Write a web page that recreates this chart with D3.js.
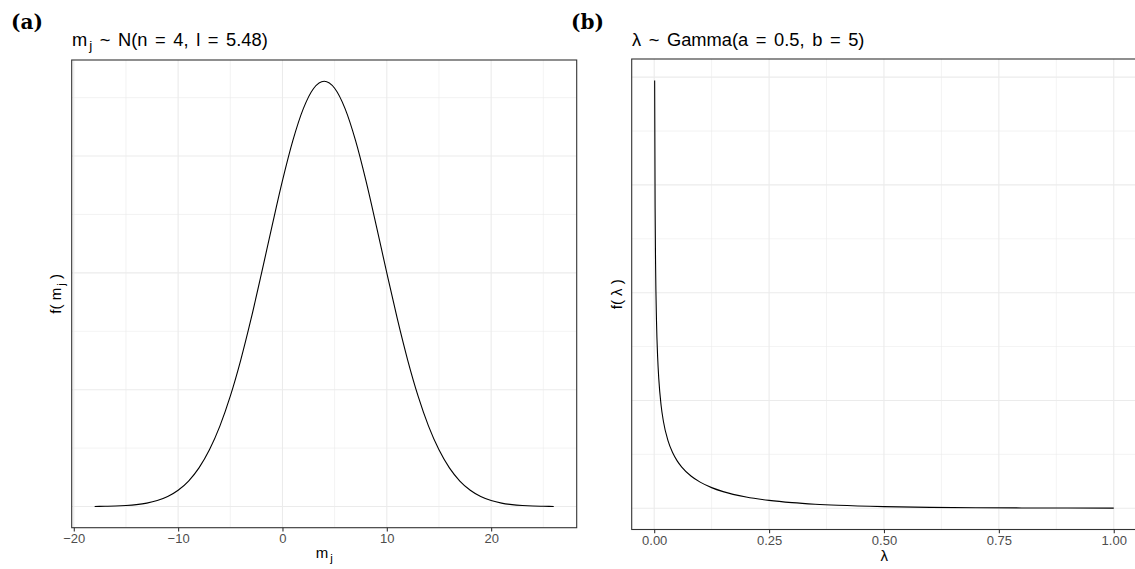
<!DOCTYPE html>
<html><head><meta charset="utf-8">
<script src="https://cdn.jsdelivr.net/npm/d3@7"></script>
<style>
body{margin:0;background:#fff}
svg{display:block}
text{font-family:"Liberation Sans",Arial,Helvetica,sans-serif}
</style>
</head><body>
<svg id="chart" width="1135" height="569"></svg>
<script>
// ---- Data ----
// (a) m_j ~ N(n = 4, l = 5.48) density curve
const normX = [-18,-17,-16,-15,-14,-13,-12,-11,-10,-9,-8,-7,-6,-5,-4,-3,-2,-1,0,1,2,3,4,5,6,7,8,9,10,11,12,13,14,15,16,17,18,19,20,21,22,23,24,25,26];
const normY = [0.00002,0.00005,0.00009,0.00018,0.00033,0.00059,0.00103,0.00172,0.00279,0.00437,0.00662,0.00971,0.01377,0.01890,0.02508,0.03220,0.03998,0.04801,0.05578,0.06267,0.06811,0.07160,0.07280,0.07160,0.06811,0.06267,0.05578,0.04801,0.03998,0.03220,0.02508,0.01890,0.01377,0.00971,0.00662,0.00437,0.00279,0.00172,0.00103,0.00059,0.00033,0.00018,0.00009,0.00005,0.00002];
// (b) lambda ~ Gamma(a = 0.5, b = 5) density curve
const gammaX = [0.001,0.002,0.003,0.005,0.0075,0.01,0.015,0.02,0.03,0.04,0.05,0.06,0.08,0.1,0.125,0.15,0.2,0.25,0.3,0.35,0.4,0.5,0.6,0.7,0.8,0.9,1.0];
const gammaY = [39.70,27.93,22.69,17.40,14.03,12.00,9.556,8.072,6.269,5.164,4.394,3.815,2.990,2.420,1.910,1.539,1.038,0.7229,0.5139,0.3706,0.2700,0.1465,0.0811,0.0455,0.0258,0.0148,0.0085];

// Axis breaks / labels
const normXMajor = [-20,-10,0,10,20];
const normXLabels = ["\u221220","\u221210","0","10","20"];
const normXMinor = [-15,-5,5,15,25];
const normYMajor = [0,0.02,0.04,0.06];
const normYMinor = [0.01,0.03,0.05,0.07];

const gammaXMajor = [0,0.25,0.5,0.75,1];
const gammaXLabels = ["0.00","0.25","0.50","0.75","1.00"];
const gammaXMinor = [0.125,0.375,0.625,0.875];
const gammaYMajor = [0,10,20,30,40];
const gammaYMinor = [5,15,25,35];

// ---- Drawing ----
const svg = d3.select("#chart");

function expand(ext){ const r = ext[1]-ext[0]; return [ext[0]-0.05*r, ext[1]+0.05*r]; }

function panel(o){
  const g = svg.append("g");
  const x = d3.scaleLinear().domain(expand(d3.extent(o.xs))).range([o.left,o.right]);
  const y = d3.scaleLinear().domain(expand(d3.extent(o.ys))).range([o.bottom,o.top]);
  const clipId = "clip"+o.id;
  svg.append("clipPath").attr("id",clipId).append("rect")
    .attr("x",o.left).attr("y",o.top).attr("width",o.right-o.left).attr("height",o.bottom-o.top);
  const grid = g.append("g").attr("clip-path","url(#"+clipId+")");
  grid.selectAll(".mx").data(o.xMinor).join("line")
    .attr("x1",d=>x(d)).attr("x2",d=>x(d)).attr("y1",o.top).attr("y2",o.bottom)
    .attr("stroke","#ebebeb").attr("stroke-width",0.6);
  grid.selectAll(".my").data(o.yMinor).join("line")
    .attr("y1",d=>y(d)).attr("y2",d=>y(d)).attr("x1",o.left).attr("x2",o.right)
    .attr("stroke","#ebebeb").attr("stroke-width",0.6);
  grid.selectAll(".Mx").data(o.xMajor).join("line")
    .attr("x1",d=>x(d)).attr("x2",d=>x(d)).attr("y1",o.top).attr("y2",o.bottom)
    .attr("stroke","#ebebeb").attr("stroke-width",1.1);
  grid.selectAll(".My").data(o.yMajor).join("line")
    .attr("y1",d=>y(d)).attr("y2",d=>y(d)).attr("x1",o.left).attr("x2",o.right)
    .attr("stroke","#ebebeb").attr("stroke-width",1.1);
  const pts = o.xs.map((v,i)=>[v,o.ys[i]]);
  grid.append("path").datum(pts)
    .attr("fill","none").attr("stroke","#000").attr("stroke-width",1.1)
    .attr("d", d3.line().x(d=>x(d[0])).y(d=>y(d[1])).curve(d3.curveMonotoneX));
  g.append("rect").attr("x",o.left).attr("y",o.top)
    .attr("width",o.right-o.left).attr("height",o.bottom-o.top)
    .attr("fill","none").attr("stroke","#333333").attr("stroke-width",1.1);
  const ax = d3.axisBottom(x).tickValues(o.xMajor).tickFormat((d,i)=>o.xLabels[i])
    .tickSize(3.7).tickPadding(2.2);
  const axG = g.append("g").attr("transform",`translate(0,${o.bottom})`).call(ax);
  axG.select(".domain").remove();
  axG.selectAll(".tick line").attr("stroke","#333333").attr("stroke-width",1.1);
  axG.selectAll(".tick text").attr("fill","#4d4d4d")
    .style("font-family",'"Liberation Sans",Arial,sans-serif').style("font-size","13px");
  return {x,y};
}

panel({id:"a", xs:normX, ys:normY, left:71.7, right:576.7, top:60, bottom:527.7,
  xMajor:normXMajor, xLabels:normXLabels, xMinor:normXMinor, yMajor:normYMajor, yMinor:normYMinor});
panel({id:"b", xs:gammaX, ys:gammaY, left:631.7, right:1136.7, top:59, bottom:529.5,
  xMajor:gammaXMajor, xLabels:gammaXLabels, xMinor:gammaXMinor, yMajor:gammaYMajor, yMinor:gammaYMinor});

// Panel tags
svg.append("text").attr("x",11).attr("y",29).text("(a)")
  .style("font-family",'"DejaVu Serif","Liberation Serif",serif').style("font-weight","bold").style("font-size","20px");
svg.append("text").attr("x",571).attr("y",29).text("(b)")
  .style("font-family",'"DejaVu Serif","Liberation Serif",serif').style("font-weight","bold").style("font-size","20px");

// Titles
const tA = svg.append("text").attr("x",72).attr("y",45.5).style("font-size","18.3px").attr("fill","#000")
  .style("word-spacing","2.5px");
tA.append("tspan").text("m");
tA.append("tspan").attr("dx",2).attr("dy",4.5).style("font-size","13.5px").text("j");
tA.append("tspan").attr("dy",-4.5).text(" ~ N(n = 4, l = 5.48)");

svg.append("text").attr("x",632).attr("y",45.5).style("font-size","18.3px").attr("fill","#000")
  .style("word-spacing","2.5px")
  .text("\u03bb ~ Gamma(a = 0.5, b = 5)");

// X axis titles
const xa = svg.append("text").attr("x",(71.7+576.7)/2).attr("y",558).attr("text-anchor","middle")
  .style("font-size","15px");
xa.append("tspan").text("m");
xa.append("tspan").attr("dx",2).attr("dy",4).style("font-size","11.5px").text("j");

svg.append("text").attr("x",(631.7+1136.7)/2).attr("y",561).attr("text-anchor","middle")
  .style("font-size","15px").text("\u03bb");

// Y axis titles
const ya = svg.append("text").attr("transform",`translate(60.5,${(60+527.7)/2}) rotate(-90)`)
  .attr("text-anchor","middle").style("font-size","15px");
ya.append("tspan").text("f( m");
ya.append("tspan").attr("dx",2).attr("dy",4).style("font-size","11.5px").text("j");
ya.append("tspan").attr("dy",-4).text(" )");

svg.append("text").attr("transform",`translate(621.5,${(59+529.5)/2}) rotate(-90)`)
  .attr("text-anchor","middle").style("font-size","15px").text("f( \u03bb )");
</script>
</body></html>
